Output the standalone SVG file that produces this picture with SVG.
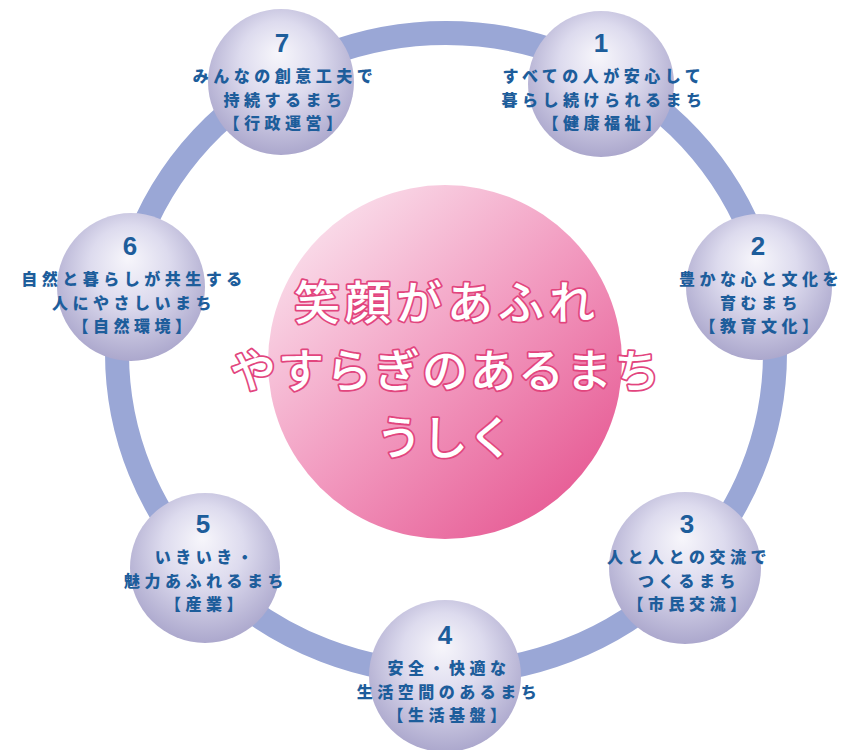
<svg xmlns="http://www.w3.org/2000/svg" width="850" height="750" viewBox="0 0 850 750">
<defs>
  <radialGradient id="nodeGrad" cx="0.5" cy="0.42" r="0.6" fx="0.48" fy="0.3">
    <stop offset="0" stop-color="#f7f6fb"/>
    <stop offset="0.45" stop-color="#dddbee"/>
    <stop offset="1" stop-color="#a9a5cb"/>
  </radialGradient>
  <linearGradient id="hubGrad" x1="0.12" y1="0.08" x2="0.88" y2="0.92">
    <stop offset="0" stop-color="#fae0ec"/>
    <stop offset="0.5" stop-color="#f29bc0"/>
    <stop offset="1" stop-color="#e65993"/>
  </linearGradient>
  <style>
    .node circle { fill: url(#nodeGrad); }
    .num { font-family: "Liberation Sans", Arial, sans-serif; font-weight: bold; font-size: 26px; fill: #1d5d9b; text-anchor: middle; }
    .lbl { font-family: "Noto Sans CJK JP", sans-serif; font-weight: 900; font-size: 16px; letter-spacing: 4.5px; fill: #1d5d9b; text-anchor: middle; }
    .hub-text { font-family: "Noto Sans CJK JP", sans-serif; font-weight: 500; font-size: 46px; fill: #ffffff; stroke: #e2457e; stroke-width: 3.5px; paint-order: stroke; stroke-linejoin: round; text-anchor: middle; }
  </style>
</defs>
<rect width="850" height="750" fill="#ffffff"/>
<g id="connectors">
  <ellipse cx="446" cy="353" rx="329" ry="320" fill="none" stroke="#9aa7d6" stroke-width="24"/>
</g>
<g id="hub">
  <circle cx="445" cy="362" r="177" fill="url(#hubGrad)"/>
  <text class="hub-text" x="447" y="319" style="letter-spacing:5px">笑顔があふれ</text>
  <text class="hub-text" x="446" y="387" style="letter-spacing:2px">やすらぎのあるまち</text>
  <text class="hub-text" x="445" y="454">うしく</text>
</g>
<g id="node1" class="node">
  <circle cx="601" cy="84" r="73"/>
  <text class="num" x="601" y="52">1</text>
  <text class="lbl" x="604" y="82">すべての人が安心して</text>
  <text class="lbl" x="604" y="105.5">暮らし続けられるまち</text>
  <text class="lbl" x="604" y="129">【健康福祉】</text>
</g>
<g id="node2" class="node">
  <circle cx="759" cy="287" r="73"/>
  <text class="num" x="758" y="255">2</text>
  <text class="lbl" x="761" y="285">豊かな心と文化を</text>
  <text class="lbl" x="761" y="308.5">育むまち</text>
  <text class="lbl" x="761" y="332">【教育文化】</text>
</g>
<g id="node3" class="node">
  <circle cx="685" cy="568" r="76"/>
  <text class="num" x="687" y="533">3</text>
  <text class="lbl" x="689" y="563">人と人との交流で</text>
  <text class="lbl" x="689" y="586.5">つくるまち</text>
  <text class="lbl" x="689" y="610">【市民交流】</text>
</g>
<g id="node4" class="node">
  <circle cx="445" cy="676" r="76"/>
  <text class="num" x="445" y="644">4</text>
  <text class="lbl" x="449" y="674">安全・快適な</text>
  <text class="lbl" x="449" y="697.5">生活空間のあるまち</text>
  <text class="lbl" x="449" y="721">【生活基盤】</text>
</g>
<g id="node5" class="node">
  <circle cx="205" cy="568" r="75"/>
  <text class="num" x="203" y="533">5</text>
  <text class="lbl" x="206" y="563">いきいき・</text>
  <text class="lbl" x="206" y="586.5">魅力あふれるまち</text>
  <text class="lbl" x="206" y="610">【産業】</text>
</g>
<g id="node6" class="node">
  <circle cx="131" cy="287" r="74"/>
  <text class="num" x="130" y="255">6</text>
  <text class="lbl" x="134" y="285">自然と暮らしが共生する</text>
  <text class="lbl" x="134" y="308.5">人にやさしいまち</text>
  <text class="lbl" x="134" y="332">【自然環境】</text>
</g>
<g id="node7" class="node">
  <circle cx="281" cy="82" r="73"/>
  <text class="num" x="282" y="52">7</text>
  <text class="lbl" x="285" y="82">みんなの創意工夫で</text>
  <text class="lbl" x="285" y="105.5">持続するまち</text>
  <text class="lbl" x="285" y="129">【行政運営】</text>
</g>
</svg>
